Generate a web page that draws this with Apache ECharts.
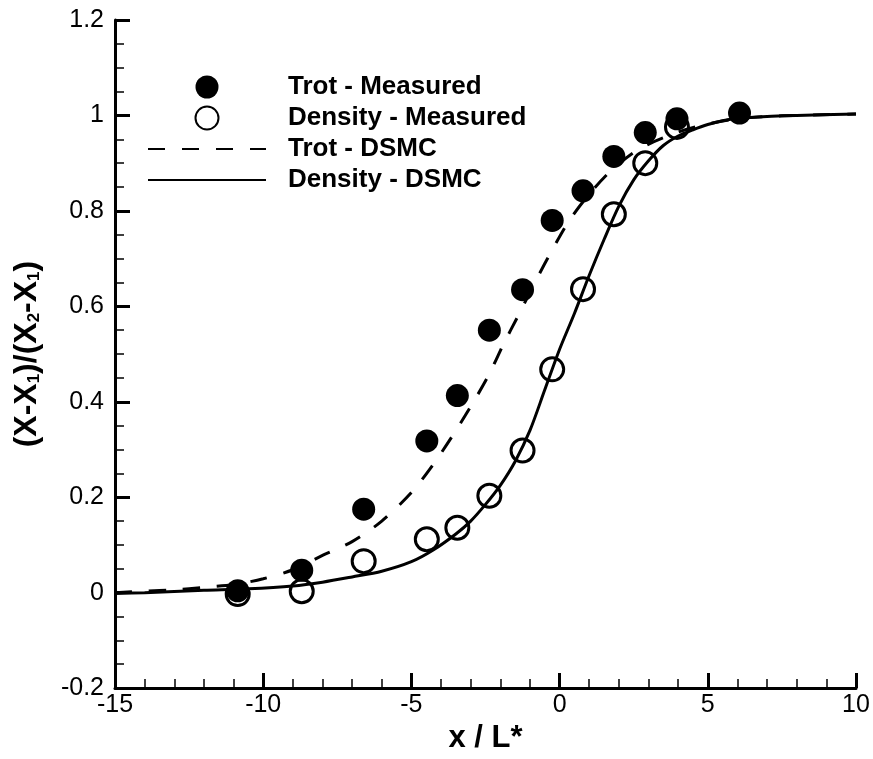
<!DOCTYPE html>
<html>
<head>
<meta charset="utf-8">
<title>Shock profile: Trot and density</title>
<script src="https://cdn.jsdelivr.net/npm/echarts@6/dist/echarts.min.js"></script>
<style>
  html, body { margin: 0; padding: 0; background: #ffffff; }
  #chart { width: 873px; height: 759px; }
</style>
</head>
<body>
<div id="chart"></div>
<script>
// Measured points (x / L*, normalised value)
const trotMeasuredX = [-10.86, -8.70, -6.61, -4.48, -3.45, -2.37, -1.25, -0.25, 0.79, 1.83, 2.89, 3.96, 6.07];
const trotMeasuredY = [0.004, 0.047, 0.175, 0.318, 0.413, 0.550, 0.635, 0.780, 0.842, 0.914, 0.964, 0.993, 1.005];
const densMeasuredX = [-10.86, -8.70, -6.61, -4.48, -3.45, -2.37, -1.25, -0.25, 0.79, 1.83, 2.89, 3.96];
const densMeasuredY = [-0.003, 0.003, 0.066, 0.112, 0.136, 0.203, 0.298, 0.468, 0.636, 0.793, 0.900, 0.976];

// DSMC profiles
const trotDsmcX = [-15, -14, -13, -12, -11, -10, -9, -8, -7, -6, -5, -4.25, -3.6, -3, -2.4, -1.9, -1.4, -0.75, -0.25, 0.33, 1, 1.75, 2.7, 4, 5, 6, 7, 8, 10];
const trotDsmcY = [0.000, 0.003, 0.006, 0.011, 0.017, 0.029, 0.048, 0.078, 0.107, 0.150, 0.210, 0.270, 0.330, 0.390, 0.455, 0.520, 0.580, 0.660, 0.718, 0.780, 0.835, 0.885, 0.930, 0.965, 0.982, 0.993, 0.998, 1.000, 1.003];

const densDsmcX = [-15, -14, -12, -10.5, -9, -8, -7, -6, -5, -4.25, -3.5, -3, -2.5, -2, -1.5, -1, -0.5, 0, 0.5, 1, 1.5, 2, 2.5, 3, 3.5, 4, 4.5, 5, 5.5, 6, 7, 8, 10];
const densDsmcY = [-0.002, 0.000, 0.005, 0.008, 0.014, 0.022, 0.033, 0.045, 0.065, 0.090, 0.123, 0.150, 0.185, 0.225, 0.275, 0.340, 0.425, 0.510, 0.585, 0.665, 0.740, 0.810, 0.865, 0.905, 0.937, 0.957, 0.970, 0.981, 0.989, 0.994, 0.998, 1.000, 1.003];

// Axis ranges and tick steps
const xRange = [-15, 10];
const xStep = 5;
const yRange = [-0.2, 1.2];
const yStep = 0.2;

const legendNames = ['Trot - Measured', 'Density - Measured', 'Trot - DSMC', 'Density - DSMC'];
const lineSeriesNames = ['Trot - DSMC', 'Density - DSMC'];

const zip = (xs, ys) => xs.map((x, i) => [x, ys[i]]);

const FONT = '"Liberation Sans", Arial, Helvetica, sans-serif';
const INK = '#000000';

function axisCommon() {
  return {
    axisLine: { show: true, onZero: false, lineStyle: { color: INK, width: 3 } },
    axisTick: { show: true, inside: true, length: 15, lineStyle: { color: INK, width: 3 } },
    minorTick: { show: true, length: 9, lineStyle: { color: INK, width: 1.5 } },
    splitLine: { show: false },
    minorSplitLine: { show: false }
  };
}

const chart = echarts.init(document.getElementById('chart'), null, { renderer: 'canvas' });

const xAxis = Object.assign(axisCommon(), {
  type: 'value',
  min: xRange[0], max: xRange[1], interval: xStep,
  name: 'x / L*',
  nameLocation: 'middle',
  nameGap: 31,
  nameTextStyle: { fontFamily: FONT, fontSize: 31, fontWeight: 'bold', color: INK },
  axisLabel: { color: INK, fontFamily: FONT, fontSize: 25, margin: 5 }
});
xAxis.minorTick.splitNumber = 5;

const yAxis = Object.assign(axisCommon(), {
  type: 'value',
  min: yRange[0], max: yRange[1], interval: yStep,
  name: '{n|(X-X}{s|1}{n|)/(X}{s|2}{n|-X}{s|1}{n|)}',
  nameLocation: 'middle',
  nameRotate: 90,
  nameGap: 72,
  nameTextStyle: {
    rich: {
      n: { fontFamily: FONT, fontSize: 32, fontWeight: 'bold', color: INK, lineHeight: 32 },
      s: { fontFamily: FONT, fontSize: 17, fontWeight: 'bold', color: INK, lineHeight: 11, verticalAlign: 'bottom' }
    }
  },
  axisLabel: { color: INK, fontFamily: FONT, fontSize: 25, margin: 11 }
});
yAxis.minorTick.splitNumber = 4;

// Legend entries; line entries hide the marker that ECharts puts on line icons
const legendData = legendNames.map(name =>
  lineSeriesNames.includes(name)
    ? { name: name, itemStyle: { color: 'rgba(0,0,0,0)', borderWidth: 0, opacity: 0 } }
    : { name: name }
);

chart.setOption({
  animation: false,
  backgroundColor: '#ffffff',
  grid: { left: 115, right: 17, top: 20, bottom: 62 },
  legend: {
    data: legendData,
    orient: 'vertical',
    left: 147,
    top: 74,
    padding: 0,
    itemGap: 5,
    itemWidth: 118,
    itemHeight: 23,
    selectedMode: false,
    textStyle: { fontFamily: FONT, fontSize: 26, fontWeight: 'bold', color: INK, lineHeight: 22, padding: [0, 0, 0, 17] }
  },
  xAxis: xAxis,
  yAxis: yAxis,
  series: [
    {
      name: 'Trot - DSMC',
      type: 'line',
      data: zip(trotDsmcX, trotDsmcY),
      showSymbol: false,
      symbol: 'none',
      smooth: 0.3,
      z: 2,
      lineStyle: { color: INK, width: 3, type: [17, 17] },
      itemStyle: { color: INK }
    },
    {
      name: 'Density - DSMC',
      type: 'line',
      data: zip(densDsmcX, densDsmcY),
      showSymbol: false,
      symbol: 'none',
      smooth: 0.3,
      z: 2,
      lineStyle: { color: INK, width: 3, type: 'solid' },
      itemStyle: { color: INK }
    },
    {
      name: 'Density - Measured',
      type: 'scatter',
      data: zip(densMeasuredX, densMeasuredY),
      symbol: 'circle',
      symbolSize: 23,
      z: 3,
      itemStyle: { color: 'rgba(255,255,255,0)', borderColor: INK, borderWidth: 3, opacity: 1 }
    },
    {
      name: 'Trot - Measured',
      type: 'scatter',
      data: zip(trotMeasuredX, trotMeasuredY),
      symbol: 'circle',
      symbolSize: 23,
      z: 4,
      itemStyle: { color: INK, opacity: 1 }
    }
  ]
});
</script>
</body>
</html>
